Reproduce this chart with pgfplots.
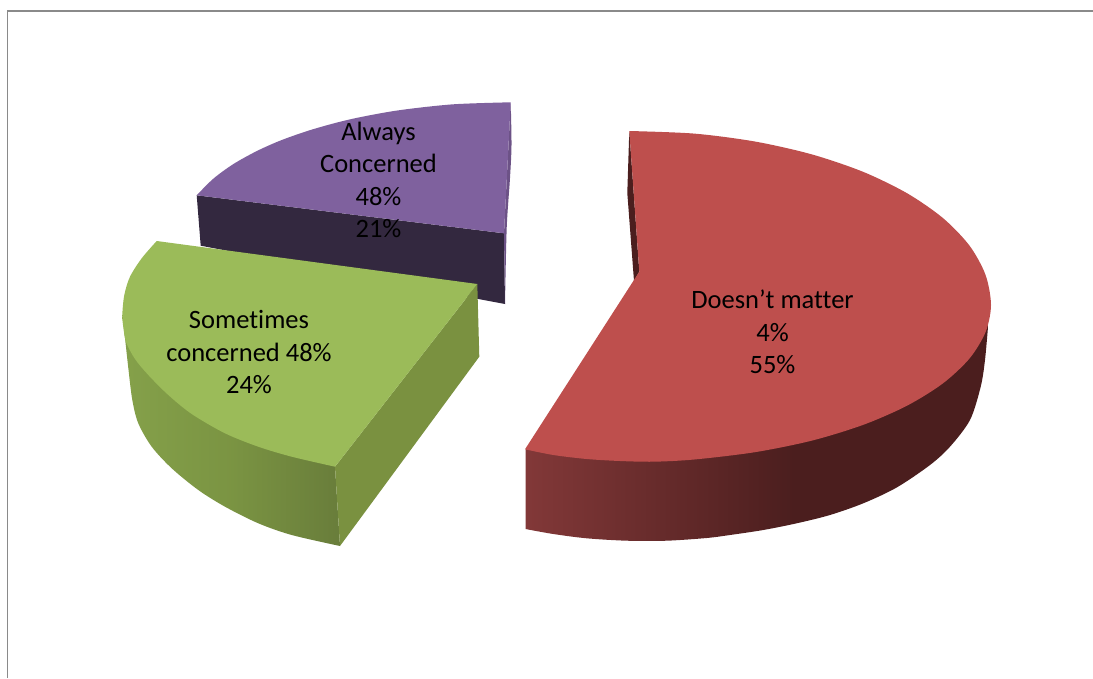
\documentclass[border=0pt]{standalone}
\usepackage{fontspec}
\setmainfont[Ligatures=NoCommon]{Carlito}
\usepackage{pgfplots}
\pgfplotsset{compat=1.18}
\definecolor{redtop}{HTML}{BE4F4D}
\definecolor{reddark}{HTML}{4B1E1E}
\definecolor{greentop}{HTML}{9BBB59}
\definecolor{greenface}{HTML}{7A9140}
\definecolor{purpletop}{HTML}{7F619E}
\definecolor{purplefront}{HTML}{33283F}
\definecolor{framegray}{HTML}{8A8A8A}
% Side-wall gradients; the path's box maps to 25bp--75bp of each shading
\pgfdeclarehorizontalshading{redwall}{100bp}{
  rgb(0bp)=(.51,.22,.22); rgb(25bp)=(.51,.22,.22); rgb(54bp)=(.294,.118,.118); rgb(100bp)=(.294,.118,.118)}
\pgfdeclarehorizontalshading{greenwall}{100bp}{
  rgb(0bp)=(.52,.63,.29); rgb(25bp)=(.52,.63,.29); rgb(50bp)=(.48,.58,.26); rgb(75bp)=(.41,.49,.23); rgb(100bp)=(.41,.49,.23)}
\tikzset{slicelabel/.style={font=\fontsize{26.5}{32.4}\selectfont, align=center, text=black}}
\begin{document}
\begin{tikzpicture}
\begin{axis}[
  scale only axis, width=1093pt, height=678pt,
  xmin=0, xmax=1093, ymin=0, ymax=678, y dir=reverse,
  hide axis,
  every axis plot/.append style={draw=none, mark=none},
]
% Invisible corners keep the full plotting area in the page box
\addplot[draw=none] coordinates {(0,0) (1093,678)};
% Outer frame of the chart area
\addplot[draw=framegray, line width=1.4pt] coordinates {(7.5,678) (7.5,11) (1093,11)};

% Always Concerned: front wall, outer sliver, top
\addplot[fill=purplefront] coordinates {(196.7,195.3) (504,233.3) (505,304) (478.3,299) (200.7,245.7)};
\addplot[fill=purpletop!85!black, smooth] coordinates {(510.7,102.3) (511.5,145) (510,178) (506.7,228) (505,304)} -- (axis cs:504,233.3) -- cycle;
\addplot[fill=purpletop, smooth] coordinates {(196.7,195.3) (213.3,178.7) (233.3,164.1) (256.7,151.1) (280,140.7) (306.7,131.2) (333.3,123.5) (360,117.2) (400,110.1) (453.3,104.3) (510.7,102.3)} -- (axis cs:504,233.3) -- cycle;

% Sometimes concerned: outer wall, cut face, top
\addplot[shading=greenwall, smooth] coordinates {(122.3,315) (125,338) (128.3,368) (132.3,400) (138.3,423.3) (151.7,446.7) (171.7,468.3) (198.3,490) (225,506.7) (258.3,523.3) (291.7,535) (340,546)} -- (axis cs:335,466.7) -- (axis cs:300,300) -- cycle;
\addplot[fill=greenface] coordinates {(335,466.7) (477.3,284) (479.3,356.7) (340,546)};
\addplot[fill=greentop, smooth] coordinates {(156.7,241) (141.7,258.3) (130,276.7) (124.3,295) (122.3,315) (123.3,327) (126,342) (135,359) (148.3,375) (168.3,395) (191.7,414) (225,433.3) (258.3,446.7) (291.7,456.7) (335,466.7)} -- (axis cs:477.3,284) -- cycle;

% Doesn't matter: back sliver, outer wall, top
\addplot[fill=reddark] coordinates {(629.3,131) (639.3,271.7) (634,281) (627.3,193)};
\addplot[shading=redwall, smooth] coordinates {(988.3,323.3) (985,360) (980.7,386.7) (970,420) (950,446.7) (930,465) (896.7,487.5) (863.3,503.3) (830,515) (796.7,523.3) (763.3,530) (730,535) (706.7,538) (666.7,540.7) (626.7,540.7) (586.7,538.3) (553.3,534) (525.5,529)} -- (axis cs:525.5,449.5) -- (axis cs:540,445) -- (axis cs:700,300) -- cycle;
\addplot[fill=redtop, smooth] coordinates {(629.3,131) (694.3,133.6) (754.8,141.5) (811.5,154.3) (862.8,171.7) (907,193.2) (942.9,218) (969.4,245.5) (985.5,274.8) (991,305) (985.5,332.2) (969.4,358.6) (942.9,383.4) (907,405.7) (862.8,425) (811.5,440.7) (754.8,452.2) (694.3,459.5) (653.3,461.7) (620,461) (586.7,459) (553.3,455) (525,449.3)} -- (axis cs:639.3,271.7) -- cycle;

% Slice labels
\node[slicelabel] at (axis cs:378.5,180) {Always\\Concerned\\48\%\\21\%};
\node[slicelabel] at (axis cs:249,352) {Sometimes\\concerned 48\%\\24\%};
\node[slicelabel] at (axis cs:772.5,332) {Doesn’t matter\\4\%\\55\%};
\end{axis}
\end{tikzpicture}
\end{document}
